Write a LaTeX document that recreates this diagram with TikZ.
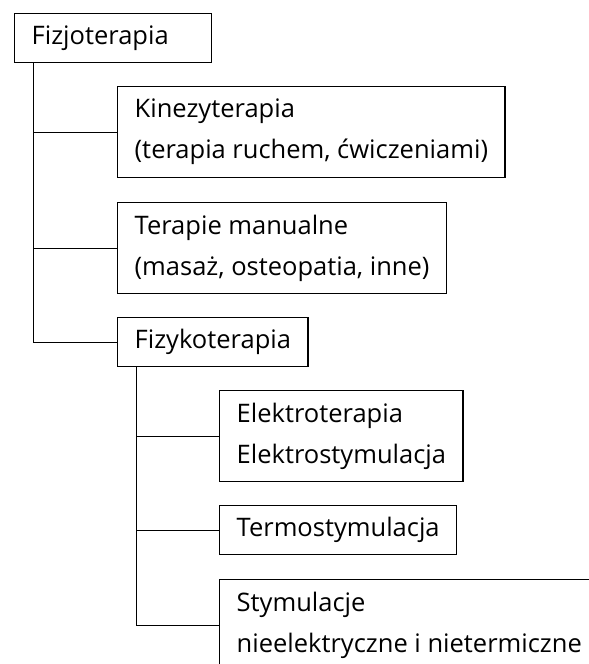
\documentclass[tikz,border=0pt]{standalone}
\usepackage{fontspec}
\setmainfont{Open Sans}
\begin{document}
\begin{tikzpicture}[x=1pt, y=-1pt,
    box/.style={draw, line width=1.4pt, anchor=north west, align=left,
      inner xsep=17pt, inner ysep=0pt, font=\fontsize{25.5}{41}\selectfont},
    one/.style={box, minimum height=49pt},
    two/.style={box, minimum height=91pt},
    link/.style={line width=0.8pt}]
      \clip (0,0) rectangle (589,664);

      \node[one, text width=163pt] (fizjo) at (14,13) {Fizjoterapia};
      \node[two] (kine) at (117,86) {Kinezyterapia\\(terapia ruchem, ćwiczeniami)};
      \node[two] (manual) at (117,202) {Terapie manualne\\(masaż, osteopatia, inne)};
      \node[one] (fizyko) at (117,317) {Fizykoterapia};

      \node[two] (elektro) at (219,390) {Elektroterapia\\Elektrostymulacja};
      \node[one] (termo) at (219,505) {Termostymulacja};
      \node[two] (stym) at (219,579) {Stymulacje\\nieelektryczne i nietermiczne};

      \foreach \n in {kine, manual, fizyko}
      \draw[link] ([xshift=19pt]fizjo.south west) |- (\n.west);
      \foreach \n in {elektro, termo, stym}
      \draw[link] ([xshift=19pt]fizyko.south west) |- (\n.west);
    \end{tikzpicture}
\end{document}
